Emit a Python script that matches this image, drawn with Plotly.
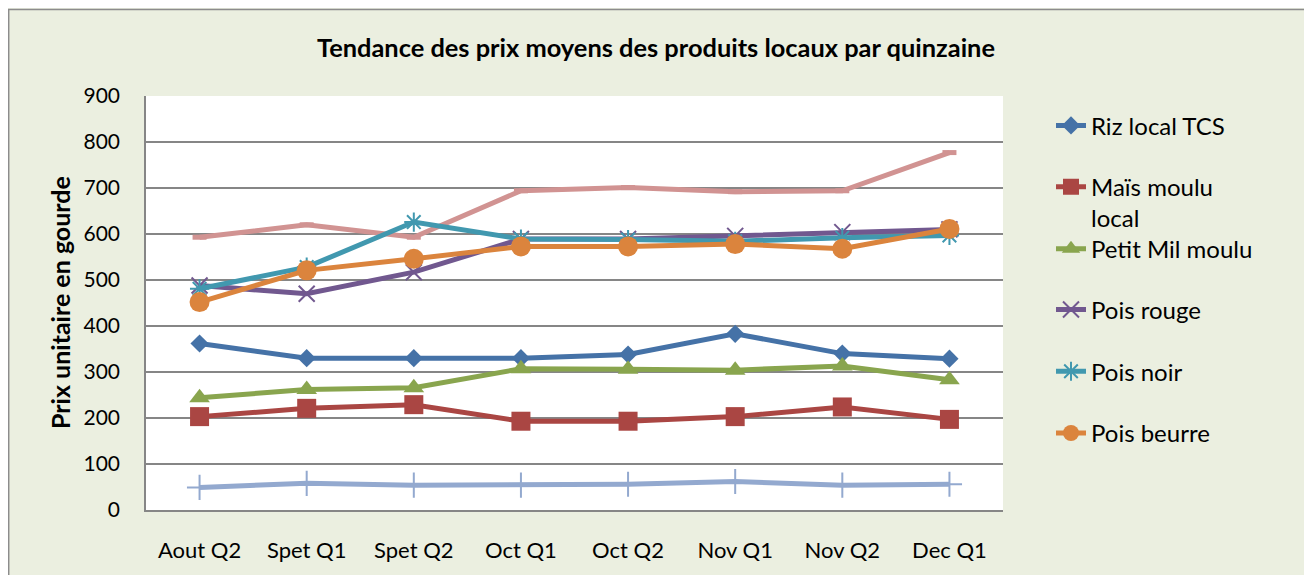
import plotly.graph_objects as go

categories = ["Aout Q2", "Spet Q1", "Spet Q2", "Oct Q1", "Oct Q2", "Nov Q1", "Nov Q2", "Dec Q1"]

riz_local_tcs = [362, 330, 330, 330, 338, 383, 340, 329]
mais_moulu_local = [203, 221, 229, 193, 193, 203, 224, 197]
petit_mil_moulu = [244, 262, 266, 307, 306, 304, 313, 283]
pois_rouge = [488, 470, 517, 589, 589, 596, 604, 610]
pois_noir = [481, 528, 626, 589, 588, 584, 592, 597]
pois_beurre = [452, 521, 546, 573, 573, 578, 568, 611]
serie_7 = [49, 58, 54, 54, 56, 62, 54, 56]
serie_8 = [593, 620, 593, 694, 701, 692, 694, 777]

y_ticks = [0, 100, 200, 300, 400, 500, 600, 700, 800, 900]

FONT = "Lato"
OFF = 8  # page body margin
W, H = 1312 - OFF, 575 - OFF
# plot area in page pixels -> figure pixels
L, R, T, B = 146 - OFF, 1003 - OFF, 96 - OFF, 512 - OFF

fig = go.Figure()

def add(name, values, color, symbol, size, legend=None, mline=0, show=True):
    fig.add_trace(go.Scatter(
        x=categories, y=values, name=name, mode="lines+markers",
        line=dict(color=color, width=5),
        marker=dict(symbol=symbol, size=size, color=color,
                    line=dict(width=mline, color=color)),
        showlegend=show, legend=legend,
    ))

# series without legend entry
add("Série 7", serie_7, "#93A9CF", "cross-thin", 18, mline=2, show=False)
add("Série 8", serie_8, "#D19392", "line-ew", 10, mline=5, show=False)
add("Riz local TCS", riz_local_tcs, "#4572A7", "diamond", 14, legend="legend")
add("Maïs moulu<br>local", mais_moulu_local, "#AA4643", "square", 19, legend="legend2")
add("Petit Mil moulu", petit_mil_moulu, "#89A54E", "triangle-up", 18, legend="legend3")
add("Pois rouge", pois_rouge, "#71588F", "x-thin", 16, legend="legend4", mline=2)
add("Pois noir", pois_noir, "#4198AF", "asterisk", 16, legend="legend5", mline=2)
add("Pois beurre", pois_beurre, "#DB843D", "circle", 20, legend="legend6")

def py(page_y):
    return (B - (page_y - OFF)) / (B - T)

def pxx(page_x):
    return ((page_x - OFF) - L) / (R - L)

legend_font = dict(family=FONT, size=24, color="#000000")
leg_common = dict(x=pxx(1093 - 42), xanchor="left", yanchor="middle", bgcolor="rgba(0,0,0,0)",
                  font=legend_font, itemwidth=30)
legend_y = [126, 188, 250, 311, 373, 435]
layout_legends = {}
for i, yy in enumerate(legend_y):
    key = "legend" if i == 0 else f"legend{i+1}"
    d = dict(leg_common, y=py(yy))
    if i == 1:
        d.update(yanchor="top", y=py(yy - 23), valign="top")
    layout_legends[key] = d

fig.update_layout(
    width=W, height=H,
    margin=dict(l=L, r=W - R, t=T, b=H - B, pad=0),
    paper_bgcolor="#EBEFE0",
    plot_bgcolor="#FFFFFF",
    font=dict(family=FONT, size=21, color="#000000"),
    title=dict(text="<b>Tendance des prix moyens des produits locaux par quinzaine</b>",
               x=(656 - OFF) / W, xanchor="center", y=1 - (48 - OFF) / H, yanchor="middle",
               font=dict(family=FONT, size=25.4, color="#000000")),
    xaxis=dict(type="category", range=[-0.5, 7.5], showgrid=False,
               showline=True, linecolor="#868686", linewidth=1.5,
               ticks="", ticklabelstandoff=20, tickfont=dict(size=22), fixedrange=True),
    yaxis=dict(range=[0, 900], tickvals=y_ticks, ticktext=[str(v) for v in y_ticks],
               showgrid=True, gridcolor="#868686", gridwidth=1.5,
               showline=True, linecolor="#868686", linewidth=1.5, zeroline=False,
               ticks="", ticklabelstandoff=20, tickfont=dict(size=21)),
    **layout_legends,
)

fig.add_annotation(text="<b>Prix unitaire en gourde</b>", textangle=-90,
                   xref="paper", yref="paper", x=pxx(60), y=py(304),
                   xanchor="center", yanchor="middle", showarrow=False,
                   font=dict(family=FONT, size=25, color="#000000"))

# outer chart frame
fig.add_shape(type="rect", xref="paper", yref="paper",
              x0=pxx(8.7), x1=pxx(1311), y0=py(H + 30), y1=py(9),
              fillcolor="rgba(0,0,0,0)", line=dict(width=1.5, color="#8C8C8C"), layer="above")

fig.write_html("out.html")
